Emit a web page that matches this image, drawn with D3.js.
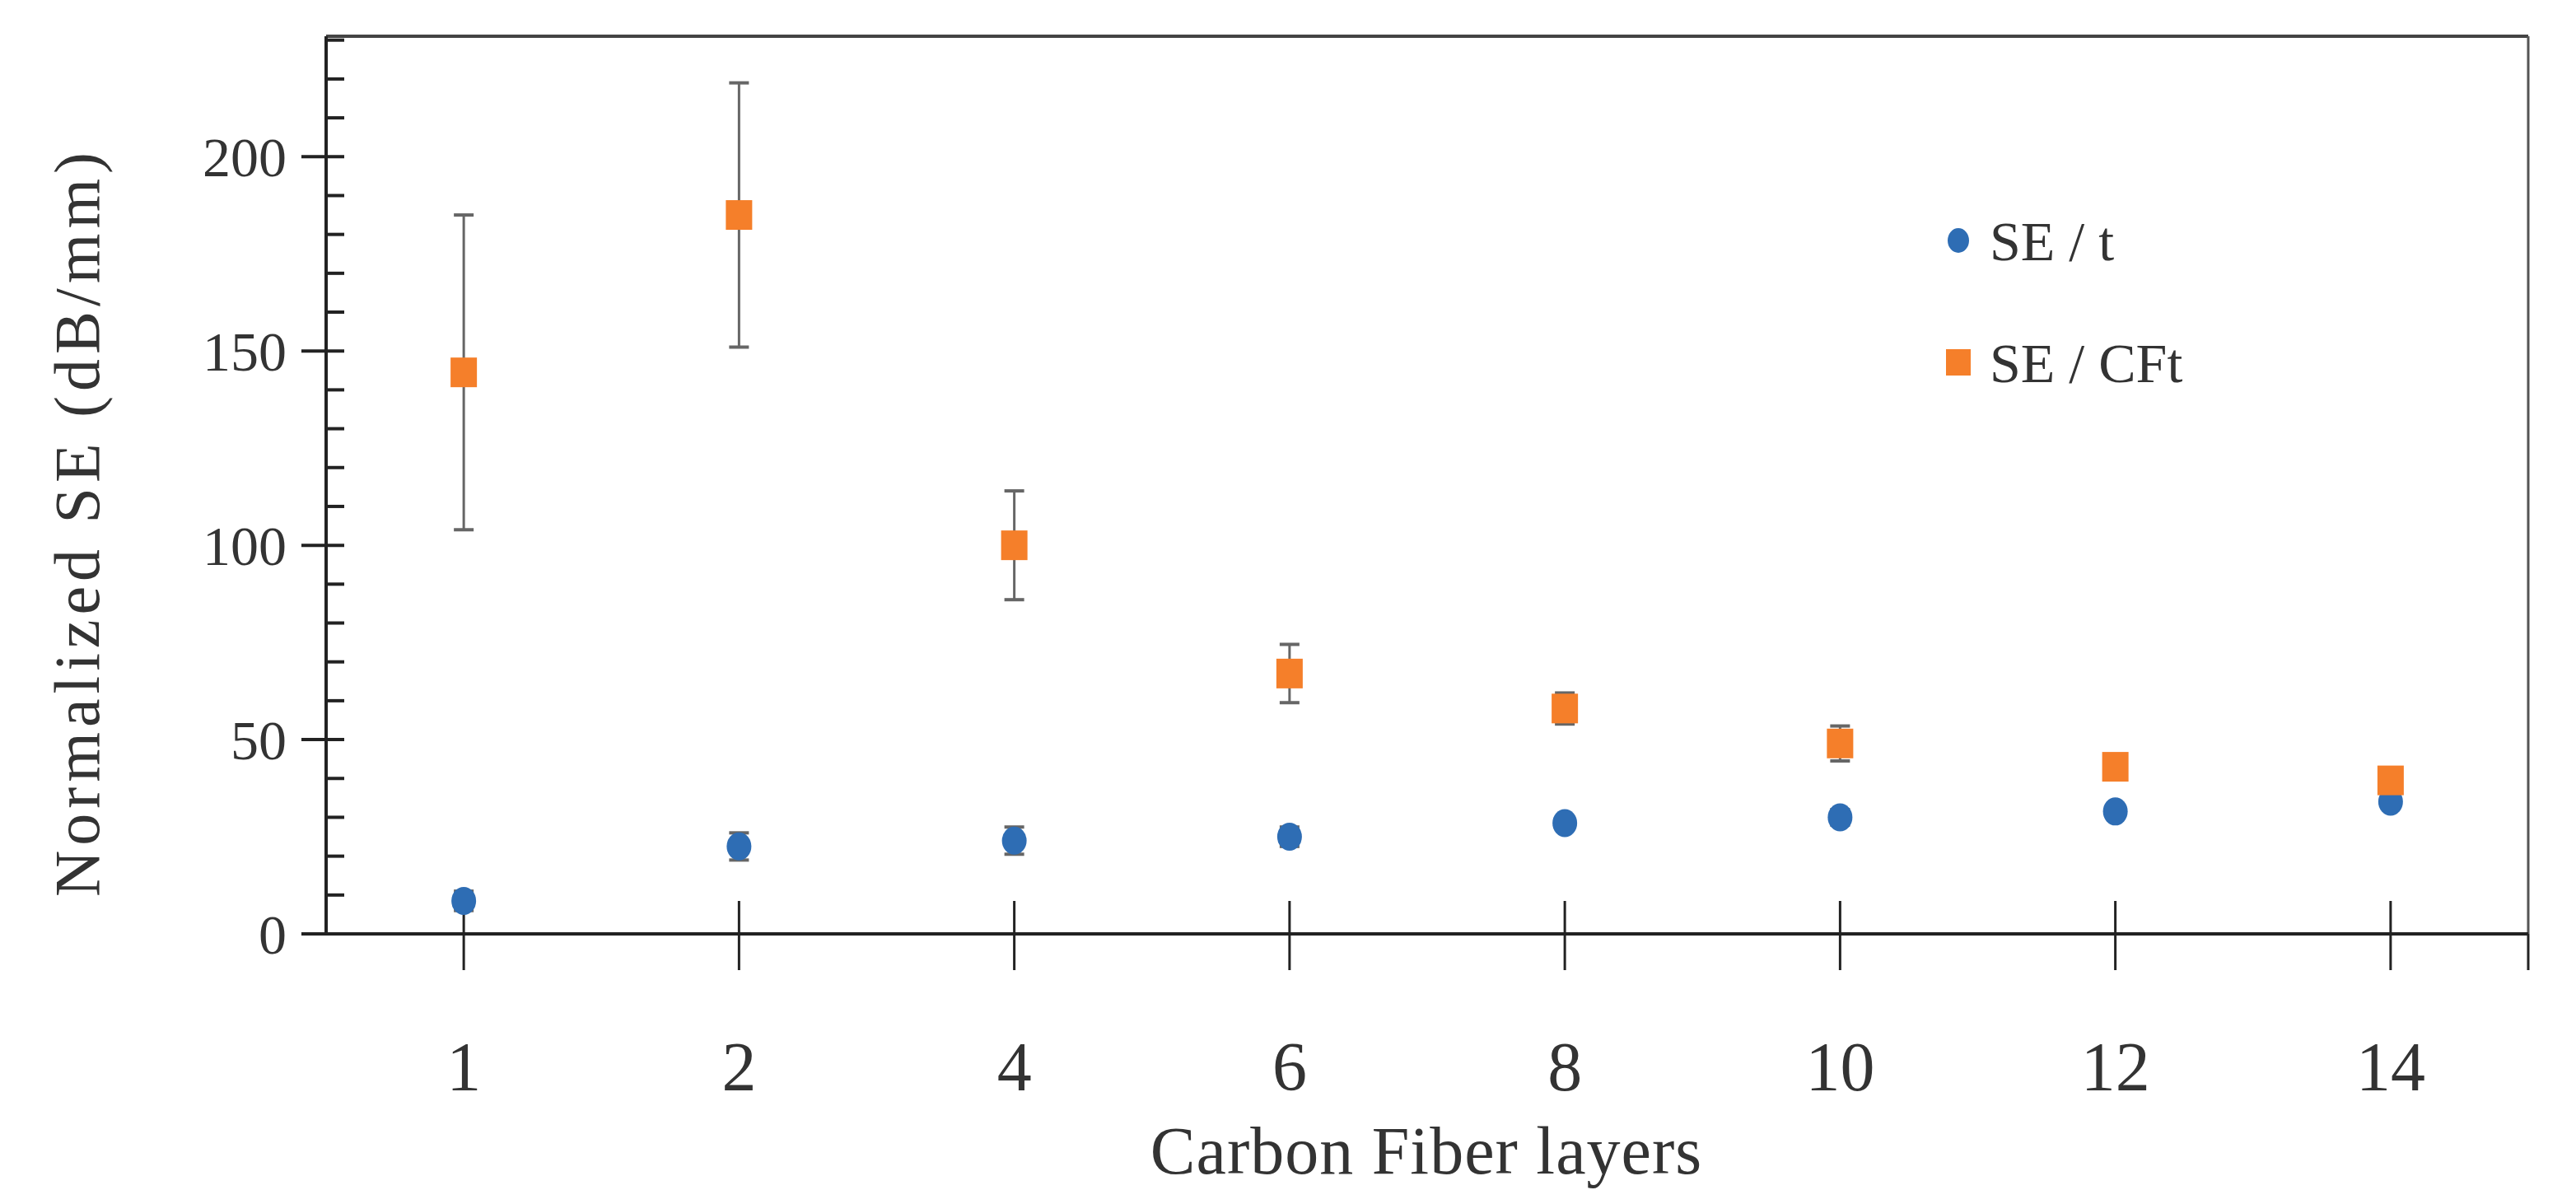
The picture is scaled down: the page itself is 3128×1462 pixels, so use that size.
<!DOCTYPE html>
<html><head><meta charset="utf-8">
<script src="https://cdn.jsdelivr.net/npm/d3@7"></script>
<style>body{margin:0;background:#fff}</style></head>
<body><svg id="c" width="3128" height="1462"></svg>
<script>
const categories = ["1","2","4","6","8","10","12","14"];
const seT = [8.5, 22.5, 24, 25, 28.5, 30, 31.5, 34];
const seTErr = [2.5, 3.5, 3.5, 2.5, 1.5, 2, 1.5, 1];
const seCFt = [144.5, 185, 100, 67, 58, 49, 43, 39.5];
const seCFtErr = [40.5, 34, 14, 7.5, 4, 4.5, 2.5, 1.5];
const yTicks = [0, 50, 100, 150, 200];

const svg = d3.select("#c");
const L = 396, R = 3070, T = 44, B = 1134;
const x = d3.scaleBand().domain(categories).range([L, R]);
const y = d3.scaleLinear().domain([0, 231]).range([B, T]);
const font = "'Liberation Serif', 'DejaVu Serif', serif";
const blue = "#2e6db4", orange = "#f57f2a";

svg.append("line").attr("x1", L).attr("x2", R).attr("y1", T).attr("y2", T).attr("stroke", "#444").attr("stroke-width", 4);
svg.append("line").attr("x1", R).attr("x2", R).attr("y1", T).attr("y2", B).attr("stroke", "#555").attr("stroke-width", 3);

const g = svg.append("g");
d3.range(0, 231, 10).forEach(v => {
  const major = v % 50 === 0;
  g.append("line").attr("x1", major ? L - 30 : L).attr("x2", L + 22)
    .attr("y1", y(v)).attr("y2", y(v)).attr("stroke", "#222").attr("stroke-width", 4);
});
g.append("line").attr("x1", L).attr("x2", L).attr("y1", T).attr("y2", B).attr("stroke", "#222").attr("stroke-width", 4);
yTicks.forEach(v => {
  g.append("text").attr("x", L - 48).attr("y", y(v)).attr("dy", "0.35em").attr("text-anchor", "end")
    .attr("font-family", font).attr("font-size", 68).attr("fill", "#333").text(v);
});

g.append("line").attr("x1", L - 30).attr("x2", R).attr("y1", B).attr("y2", B).attr("stroke", "#222").attr("stroke-width", 4);
categories.forEach(c => {
  const cx = x(c) + x.bandwidth() / 2;
  g.append("line").attr("x1", cx).attr("x2", cx).attr("y1", B - 40).attr("y2", B + 44).attr("stroke", "#222").attr("stroke-width", 3);
  g.append("text").attr("x", cx).attr("y", B + 190).attr("text-anchor", "middle")
    .attr("font-family", font).attr("font-size", 84).attr("fill", "#333").text(c);
});
g.append("line").attr("x1", R).attr("x2", R).attr("y1", B).attr("y2", B + 44).attr("stroke", "#222").attr("stroke-width", 3);

svg.append("text").attr("x", 1732).attr("y", 1425).attr("text-anchor", "middle")
  .attr("font-family", font).attr("font-size", 82).attr("fill", "#333").attr("letter-spacing", 1).text("Carbon Fiber layers");
svg.append("text").attr("transform", `translate(120,${(T + B) / 2 + 45}) rotate(-90)`).attr("text-anchor", "middle")
  .attr("font-family", font).attr("font-size", 78).attr("fill", "#333").attr("letter-spacing", 6).text("Normalized SE (dB/mm)");

function errs(vals, es) {
  categories.forEach((c, i) => {
    const cx = x(c) + x.bandwidth() / 2;
    const y1 = y(vals[i] + es[i]), y2 = y(vals[i] - es[i]);
    svg.append("line").attr("x1", cx).attr("x2", cx).attr("y1", y1).attr("y2", y2).attr("stroke", "#666").attr("stroke-width", 3);
    [y1, y2].forEach(yy => svg.append("line").attr("x1", cx - 12).attr("x2", cx + 12).attr("y1", yy).attr("y2", yy).attr("stroke", "#666").attr("stroke-width", 4));
  });
}
errs(seT, seTErr);
errs(seCFt, seCFtErr);

categories.forEach((c, i) => {
  const cx = x(c) + x.bandwidth() / 2;
  svg.append("ellipse").attr("cx", cx).attr("cy", y(seT[i])).attr("rx", 15).attr("ry", 17).attr("fill", blue);
  svg.append("rect").attr("x", cx - 16).attr("y", y(seCFt[i]) - 18).attr("width", 32).attr("height", 36).attr("fill", orange);
});

svg.append("ellipse").attr("cx", 2378).attr("cy", 292).attr("rx", 13).attr("ry", 15).attr("fill", blue);
svg.append("text").attr("x", 2416).attr("y", 292).attr("dy", "0.35em").attr("font-family", font).attr("font-size", 68).attr("fill", "#333").text("SE / t");
svg.append("rect").attr("x", 2363).attr("y", 424).attr("width", 30).attr("height", 32).attr("fill", orange);
svg.append("text").attr("x", 2416).attr("y", 440).attr("dy", "0.35em").attr("font-family", font).attr("font-size", 68).attr("fill", "#333").text("SE / CFt");
</script></body></html>
